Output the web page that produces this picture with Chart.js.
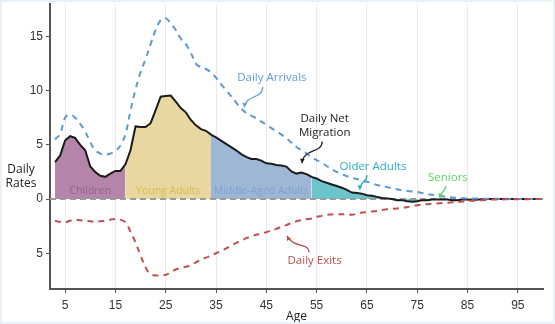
<!DOCTYPE html>
<html>
<head>
<meta charset="utf-8">
<script src="https://cdn.jsdelivr.net/npm/chart.js@4.4.1/dist/chart.umd.min.js"></script>
<style>
  html, body { margin: 0; padding: 0; background: #fff; }
  #wrap { width: 555px; height: 324px; box-sizing: border-box; border: 2px solid #e6f2f8; }
  canvas { display: block; }
</style>
</head>
<body>
<div id="wrap"><canvas id="myChart" width="551" height="320"></canvas></div>
<script>
// ages 3..100
const ages = [];
for (let a = 3; a <= 100; a++) ages.push(a);

const netRate = [3.4,4.0,5.4,5.8,5.65,5.0,4.5,3.0,2.5,2.15,2.05,2.35,2.6,2.6,3.2,4.5,6.7,6.65,6.65,7.0,
  8.2,9.45,9.5,9.55,9.0,8.4,8.0,7.3,6.8,6.45,6.3,5.95,5.7,5.4,5.1,4.8,4.5,4.15,3.9,3.7,
  3.7,3.55,3.3,3.25,3.15,3.1,3.0,2.55,2.35,2.45,2.3,2.05,1.9,1.65,1.5,1.35,1.2,1.05,0.85,0.6,
  0.55,0.5,0.35,0.3,0.2,0.1,0.05,0.0,-0.1,-0.1,-0.2,-0.25,-0.2,-0.1,-0.1,-0.05,-0.05,-0.05,-0.05,-0.1,
  -0.1,-0.05,-0.05,-0.1,-0.05,-0.05,0,0,0,0,0,0,0,0,0,0,0,0];

const arrivals = [5.5,6.0,7.5,7.8,7.5,6.95,6.25,5.25,4.5,4.2,4.1,4.2,4.45,4.95,6.0,8.15,10.1,11.7,12.9,14.3,
  15.6,16.5,16.7,16.2,15.6,14.8,14.3,13.5,12.5,12.15,12.0,11.7,11.2,10.6,10.05,9.5,8.9,8.35,7.95,7.7,
  7.45,7.15,6.85,6.55,6.25,5.95,5.6,5.2,4.8,4.5,4.2,3.85,3.6,3.35,3.05,2.75,2.5,2.3,2.1,1.95,
  1.85,1.7,1.6,1.45,1.3,1.2,1.1,1.0,0.9,0.8,0.75,0.7,0.65,0.55,0.45,0.4,0.3,0.25,0.2,0.15,
  0.1,0.08,0.05,0.05,0.04,0.04,0.03,0.03,0.02,0.02,0.02,0.01,0.01,0.01,0.01,0,0,0];

const exits = [-2.0,-2.1,-2.15,-2.0,-1.9,-1.95,-2.0,-2.05,-2.1,-2.05,-2.0,-1.9,-1.85,-1.9,-2.15,-3.0,-4.0,-5.2,-6.3,-6.95,
  -7.05,-7.05,-7.0,-6.75,-6.5,-6.35,-6.25,-6.1,-5.85,-5.6,-5.4,-5.25,-5.0,-4.8,-4.55,-4.3,-4.05,-3.85,-3.6,-3.45,
  -3.3,-3.2,-3.05,-2.9,-2.75,-2.55,-2.4,-2.2,-2.05,-1.95,-1.85,-1.8,-1.65,-1.55,-1.45,-1.42,-1.4,-1.4,-1.4,-1.45,
  -1.35,-1.25,-1.2,-1.15,-1.1,-1.0,-0.95,-0.9,-0.87,-0.83,-0.75,-0.65,-0.57,-0.5,-0.47,-0.43,-0.4,-0.37,-0.33,-0.3,
  -0.27,-0.22,-0.18,-0.15,-0.12,-0.1,-0.07,-0.05,-0.04,-0.03,-0.02,-0.02,-0.01,-0.01,-0.01,0,0,0];

const groupNames = ['Children', 'Young Adults', 'Middle-Aged Adults', 'Older Adults', 'Seniors'];
const groupStart = [3, 17, 34, 54, 75];
const groupEnd   = [17, 34, 54, 75, 100];
const groupFill  = ['#b585a9', '#e8d7a1', '#9fb7d6', '#6dc5cc', '#98e398'];
const groupText  = ['#9a5c8f', '#d7b94e', '#7e9fcf', '#26aebf', '#5fd35f'];

const xTicks = [5, 15, 25, 35, 45, 55, 65, 75, 85, 95];
const yTicks = [-5, 0, 5, 10, 15];

const pts = (arr) => ages.map((a, i) => ({x: a, y: arr[i]}));

let datasets = [];
groupNames.forEach((g, k) => {
  datasets.push({
    label: g,
    data: pts(netRate).filter(p => p.x >= groupStart[k] && p.x <= groupEnd[k]),
    borderWidth: 0,
    pointRadius: 0,
    backgroundColor: groupFill[k],
    fill: 'origin',
    tension: 0,
    order: 10
  });
});
const NET_IDX = datasets.length;
datasets.push({label: 'Daily Net Migration', data: pts(netRate), borderColor: '#1b1b1b', borderWidth: 2, pointRadius: 0, fill: false, tension: 0, order: 3});
datasets.push({label: 'Daily Arrivals', data: pts(arrivals), borderColor: '#5b9bd5', borderWidth: 2, borderDash: [6, 5], pointRadius: 0, fill: false, tension: 0.4, order: 2});
datasets.push({label: 'Daily Exits', data: pts(exits), borderColor: '#c0504d', borderWidth: 2, borderDash: [6, 5], pointRadius: 0, fill: false, tension: 0.4, order: 1});

// text notes: [text lines, age, value, color, arrow(start,c1,c2,end) in data units]
const notes = [
  [['Daily Arrivals'], 46.1, 11.2, '#5e9dd6', [[44.3,10.35],[44.3,9.2],[41,9.7],[40.6,8.45]]],
  [['Daily Net', 'Migration'], 56.6, 7.45, '#222222', [[56.1,5.3],[56.1,4.2],[52.3,4.7],[52.1,3.3]]],
  [['Older Adults'], 66.2, 2.94, '#26aebf', [[65,2.2],[65,1.5],[63.6,1.7],[63.6,0.85]]],
  [['Seniors'], 81.1, 1.93, '#5fd35f', [[80.7,1.2],[80.7,0.7],[79.6,0.8],[79.5,0.1]]],
  [['Daily Exits'], 54.6, -5.7, '#c0504d', [[53.5,-4.9],[53.5,-4.0],[50.5,-4.6],[49.1,-3.4]]]
];

const decor = {
  id: 'decor',
  beforeDatasetDraw(chart, args) {
    if (args.index !== NET_IDX) return;
    const {ctx, chartArea, scales: {y}} = chart;
    ctx.save();
    ctx.strokeStyle = '#9a9a9a';
    ctx.lineWidth = 2;
    ctx.setLineDash([6, 4]);
    ctx.beginPath();
    ctx.moveTo(chartArea.left, y.getPixelForValue(0));
    ctx.lineTo(chartArea.right, y.getPixelForValue(0));
    ctx.stroke();
    ctx.restore();
    // group labels
    const xs = chart.scales.x;
    ctx.save();
    ctx.font = '10.5px "Open Sans"';
    ctx.textAlign = 'center';
    ctx.textBaseline = 'middle';
    groupNames.forEach((g, k) => {
      if (k > 2) return;
      ctx.fillStyle = groupText[k];
      ctx.fillText(g, xs.getPixelForValue((groupStart[k] + groupEnd[k]) / 2), y.getPixelForValue(0.7));
    });
    ctx.restore();
  },
  afterDraw(chart) {
    const {ctx, scales: {x, y}} = chart;
    ctx.save();
    ctx.font = '11.5px "Open Sans"';
    ctx.textAlign = 'center';
    ctx.textBaseline = 'middle';
    notes.forEach(n => {
      ctx.fillStyle = n[3];
      n[0].forEach((t, i) => ctx.fillText(t, x.getPixelForValue(n[1]), y.getPixelForValue(n[2]) + i * 14));
      const p = n[4].map(q => [x.getPixelForValue(q[0]), y.getPixelForValue(q[1])]);
      ctx.strokeStyle = n[3];
      ctx.lineWidth = 1.3;
      ctx.beginPath();
      ctx.moveTo(p[0][0], p[0][1]);
      ctx.bezierCurveTo(p[1][0], p[1][1], p[2][0], p[2][1], p[3][0], p[3][1]);
      ctx.stroke();
      // arrow head
      const ang = Math.atan2(p[3][1] - p[2][1], p[3][0] - p[2][0]);
      ctx.fillStyle = n[3];
      ctx.beginPath();
      ctx.moveTo(p[3][0], p[3][1]);
      ctx.lineTo(p[3][0] - 5 * Math.cos(ang - 0.5), p[3][1] - 5 * Math.sin(ang - 0.5));
      ctx.lineTo(p[3][0] - 5 * Math.cos(ang + 0.5), p[3][1] - 5 * Math.sin(ang + 0.5));
      ctx.closePath();
      ctx.fill();
    });
    // y title
    ctx.fillStyle = '#222';
    ctx.font = '12px "Open Sans"';
    ctx.fillText('Daily', 19, y.getPixelForValue(2.7));
    ctx.fillText('Rates', 19, y.getPixelForValue(1.4));
    ctx.restore();
  }
};

let ctx = document.getElementById('myChart');
document.myChart = new Chart(ctx, {
  type: 'line',
  data: { datasets: datasets },
  options: {
    responsive: false,
    animation: false,
    layout: { padding: { left: 0, right: 10, top: 2, bottom: 0 } },
    scales: {
      x: {
        type: 'linear', min: 2, max: 100,
        afterBuildTicks: (s) => { s.ticks = xTicks.map(v => ({value: v})); },
        afterFit: (s) => { s.height = 33; s.paddingLeft = 0; s.paddingRight = 0; },
        ticks: { color: '#333', font: { family: 'Liberation Sans', size: 12 }, padding: 5 },
        grid: { color: '#e9e9e9', lineWidth: 1, tickLength: 4, tickColor: '#555' },
        border: { color: '#555', width: 2 },
        title: { display: true, text: 'Age', color: '#222', font: { family: 'Open Sans', size: 12 }, padding: { top: 2, bottom: -1.5 } }
      },
      y: {
        min: -8.3, max: 18,
        afterBuildTicks: (s) => { s.ticks = yTicks.map(v => ({value: v})); },
        afterFit: (s) => { s.width = 48; s.paddingTop = 0; s.paddingBottom = 0; },
        ticks: { color: '#333', font: { family: 'Liberation Sans', size: 12 }, padding: 3, callback: (v) => Math.abs(v) },
        grid: { drawOnChartArea: false, tickLength: 4, tickColor: '#555' },
        border: { color: '#555', width: 2 }
      }
    },
    plugins: { legend: { display: false }, tooltip: { enabled: false } }
  },
  plugins: [decor]
});
</script>
</body>
</html>
